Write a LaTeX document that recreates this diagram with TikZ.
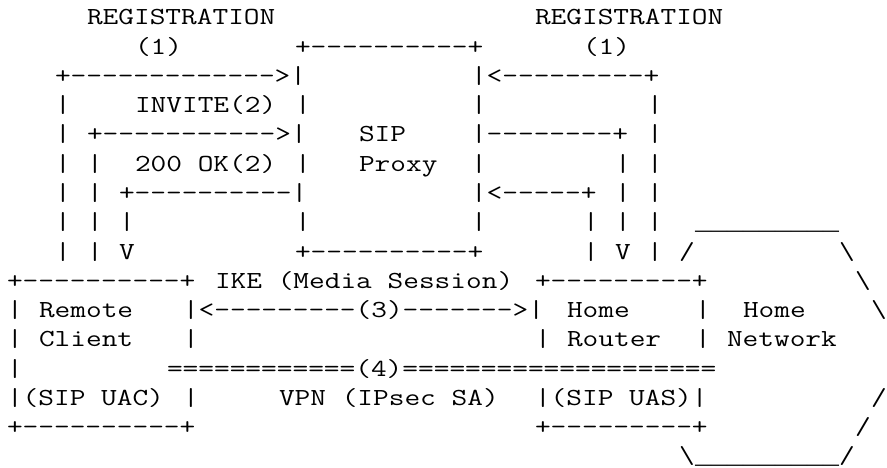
\documentclass[tikz,border=0pt]{standalone}
\usepackage{fontspec}
\setmonofont{Latin Modern Mono}[FakeStretch=1.244]
\newfontfamily\undfont{Liberation Mono}
\begin{document}
\begin{tikzpicture}[x=1pt,y=-1pt,
  asc/.style={font=\ttfamily\fontsize{24.5}{30}\selectfont,inner sep=0pt,outer sep=0pt,anchor=base west,text=black},
  und/.style={asc,font=\undfont\fontsize{26.67}{30}\selectfont}]
\useasboundingbox[fill=white] (0,0) rectangle (887,468);
\newcommand\seg[4][]{\node[asc,#1,name={r#2c#3}] at ({7+16*#3},{25+29.25*#2}) {#4};}
% row 0
\seg{0}{5}{REGISTRATION}
\seg{0}{33}{REGISTRATION}
% row 1
\seg{1}{8}{(1)}
\seg{1}{18}{+----------+}
\seg{1}{36}{(1)}
% row 2
\seg{2}{3}{+------------->|}
\seg{2}{29}{|<---------+}
% row 3
\seg{3}{3}{|}
\seg{3}{8}{INVITE(2)}
\seg{3}{18}{|}
\seg{3}{29}{|}
\seg{3}{40}{|}
% row 4
\seg{4}{3}{|}
\seg{4}{5}{+----------->|}
\seg{4}{22}{SIP}
\seg{4}{29}{|--------+}
\seg{4}{40}{|}
% row 5
\seg{5}{3}{|}
\seg{5}{5}{|}
\seg{5}{8}{200 OK(2)}
\seg{5}{18}{|}
\seg{5}{22}{Proxy}
\seg{5}{29}{|}
\seg{5}{38}{|}
\seg{5}{40}{|}
% row 6
\seg{6}{3}{|}
\seg{6}{5}{|}
\seg{6}{7}{+----------|}
\seg{6}{29}{|<-----+}
\seg{6}{38}{|}
\seg{6}{40}{|}
% row 7
\seg{7}{3}{|}
\seg{7}{5}{|}
\seg{7}{7}{|}
\seg{7}{18}{|}
\seg{7}{29}{|}
\seg{7}{36}{|}
\seg{7}{38}{|}
\seg{7}{40}{|}
\seg[und]{7}{43}{\_\_\_\_\_\_\_\_\_}
% row 8
\seg{8}{3}{|}
\seg{8}{5}{|}
\seg{8}{7}{V}
\seg{8}{18}{+----------+}
\seg{8}{36}{|}
\seg{8}{38}{V}
\seg{8}{40}{|}
\seg{8}{42}{/}
\seg{8}{52}{\textbackslash}
% row 9
\seg{9}{0}{+----------+}
\seg{9}{13}{IKE (Media Session)}
\seg{9}{33}{+---------+}
\seg{9}{53}{\textbackslash}
% row 10
\seg{10}{0}{|}
\seg{10}{2}{Remote}
\seg{10}{11}{|<---------(3)------->|}
\seg{10}{35}{Home}
\seg{10}{43}{|}
\seg{10}{46}{Home}
\seg{10}{54}{\textbackslash}
% row 11
\seg{11}{0}{|}
\seg{11}{2}{Client}
\seg{11}{11}{|}
\seg{11}{33}{|}
\seg{11}{35}{Router}
\seg{11}{43}{|}
\seg{11}{45}{Network}
% row 12
\seg{12}{0}{|}
\seg{12}{10}{============(4)====================}
% row 13
\seg{13}{0}{|(SIP UAC)}
\seg{13}{11}{|}
\seg{13}{17}{VPN (IPsec SA)}
\seg{13}{33}{|(SIP UAS)|}
\seg{13}{54}{/}
% row 14
\seg{14}{0}{+----------+}
\seg{14}{33}{+---------+}
\seg{14}{53}{/}
% row 15
\seg{15}{42}{\textbackslash}
\seg[und]{15}{43}{\_\_\_\_\_\_\_\_\_}
\seg{15}{52}{/}
\end{tikzpicture}
\end{document}
